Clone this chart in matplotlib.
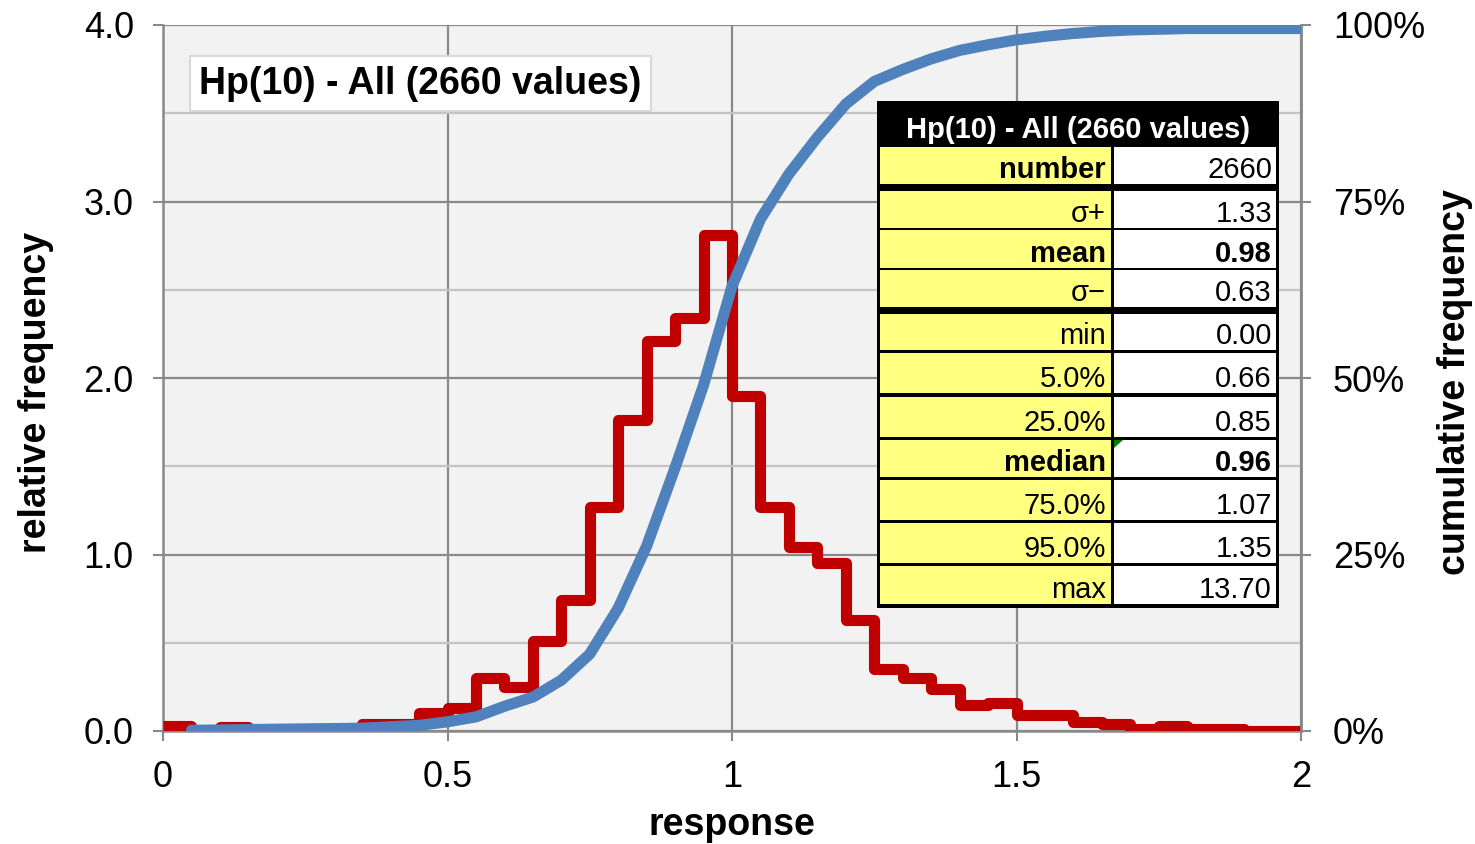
import numpy as np
import matplotlib
matplotlib.use('Agg')
import matplotlib.pyplot as plt
from matplotlib.patches import Rectangle, Polygon
from matplotlib.ticker import MultipleLocator, FixedLocator, PercentFormatter

#====================================================================================
#                                  Data
#------------------------------------------------------------------------------------
# relative frequency per bin (bin width 0.05, left edges 0.00 ... 1.95)
bin_width = 0.05
rel_freq = [0.03, 0.00, 0.02, 0.01, 0.01, 0.01, 0.01, 0.04, 0.04, 0.10,
            0.13, 0.30, 0.25, 0.51, 0.74, 1.27, 1.76, 2.21, 2.34, 2.81,
            1.90, 1.27, 1.04, 0.95, 0.63, 0.35, 0.30, 0.24, 0.15, 0.16,
            0.09, 0.09, 0.05, 0.04, 0.01, 0.03, 0.01, 0.01, 0.00, 0.00]

# cumulative frequency (%) at the upper bin edges 0.05 ... 2.00
cum_freq = [0.1, 0.15, 0.2, 0.25, 0.3, 0.35, 0.4, 0.6, 0.8, 1.3,
            2.0, 3.5, 4.8, 7.2, 10.9, 17.4, 26.2, 37.3, 49.0, 63.0,
            72.5, 78.9, 84.1, 88.8, 92.0, 93.7, 95.2, 96.4, 97.2, 97.9,
            98.4, 98.8, 99.1, 99.3, 99.4, 99.5, 99.5, 99.5, 99.5, 99.5]

title = 'Hp(10) - All (2660 values)'
stat_names = ['number', '\u03c3+', 'mean', '\u03c3\u2212', 'min', '5.0%', '25.0%',
              'median', '75.0%', '95.0%', 'max']
stat_values = ['2660', '1.33', '0.98', '0.63', '0.00', '0.66', '0.85',
               '0.96', '1.07', '1.35', '13.70']
bold_names = ['number', 'mean', 'median']
bold_values = ['mean', 'median']

x_ticks = [0, 0.5, 1, 1.5, 2]
x_ticklabels = ['0', '0.5', '1', '1.5', '2']
y_ticks = [0, 1, 2, 3, 4]
y_ticklabels = ['0.0', '1.0', '2.0', '3.0', '4.0']

#====================================================================================
#                                  Figure
#------------------------------------------------------------------------------------
plt.rcParams['font.family'] = ['Liberation Sans', 'DejaVu Sans']
W, H = 1475, 844
fig = plt.figure(figsize=(W / 100, H / 100), dpi=100)

ax = fig.add_axes([163 / W, 1 - 731 / H, (1301 - 163) / W, (731 - 25) / H])
ax.set_facecolor('#F2F2F2')
ax.set_xlim(0, 2)
ax.set_ylim(0, 4)
ax.set_axisbelow(True)

grid_dark = '#898989'
grid_light = '#C4C4C4'
ax.xaxis.set_major_locator(FixedLocator(x_ticks))
ax.set_xticklabels(x_ticklabels)
ax.yaxis.set_major_locator(FixedLocator(y_ticks))
ax.set_yticklabels(y_ticklabels)
ax.yaxis.set_minor_locator(MultipleLocator(0.5))
ax.grid(True, which='major', color=grid_dark, linewidth=1.6)
ax.grid(True, which='minor', axis='y', color=grid_light, linewidth=1.6)
ax.tick_params(which='major', direction='out', length=7, width=1.5, color=grid_dark,
               labelsize=26, pad=14)
ax.tick_params(which='minor', length=0)
for s in ['left', 'bottom', 'right']:
    ax.spines[s].set_color(grid_dark)
    ax.spines[s].set_linewidth(1.8)
ax.spines['top'].set_visible(False)

# histogram (step)
edges = np.arange(len(rel_freq) + 1) * bin_width
ax.step(edges, list(rel_freq) + [rel_freq[-1]], where='post', color='#C00000',
        linewidth=8, solid_joinstyle='round', solid_capstyle='butt', zorder=3)

ax.set_xlabel('response', fontsize=27, fontweight='bold')
ax.xaxis.set_label_coords(0.5, -0.108)
ax.set_ylabel('relative frequency', fontsize=27, fontweight='bold')
ax.yaxis.set_label_coords(-0.096, 0.48)

# cumulative curve on the right axis
ax2 = ax.twinx()
ax2.set_ylim(0, 100)
ax2.yaxis.set_major_locator(FixedLocator([0, 25, 50, 75, 100]))
ax2.yaxis.set_major_formatter(PercentFormatter(decimals=0))
ax2.tick_params(direction='out', length=7, width=1.5, color=grid_dark,
                labelsize=26, pad=16)
for s in ['left', 'bottom', 'top']:
    ax2.spines[s].set_visible(False)
ax2.spines['right'].set_color(grid_dark)
ax2.spines['right'].set_linewidth(1.8)
cum_x = edges[1:]
ax2.plot(cum_x, cum_freq, color='#4F81BD', linewidth=8,
         solid_joinstyle='round', solid_capstyle='round', zorder=4)
ax2.set_ylabel('cumulative frequency', fontsize=27, fontweight='bold')
ax2.yaxis.set_label_coords(1.1195, 0.494)

# title box
ax.text(0.032, 0.917, title, transform=ax.transAxes, fontsize=27, fontweight='bold',
        ha='left', va='center', zorder=6,
        bbox=dict(boxstyle='square,pad=0.25', facecolor='white', edgecolor='#D9D9D9',
                  linewidth=1.5))

#====================================================================================
#                                  Stats table
#------------------------------------------------------------------------------------
tx0, tx1, ty0, ty1 = 877, 1279, 101, 608
tab = fig.add_axes([tx0 / W, 1 - ty1 / H, (tx1 - tx0) / W, (ty1 - ty0) / H])
tab.set_xlim(tx0, tx1)
tab.set_ylim(ty1, ty0)
tab.axis('off')
tab.add_patch(Rectangle((tx0, ty0), tx1 - tx0, ty1 - ty0, facecolor='black', edgecolor='none'))
tab.text((tx0 + tx1) / 2, 138, title, color='white', fontsize=21, fontweight='bold',
         ha='center', va='baseline')

row_top = [147, 191, 230, 270, 314, 353, 397, 440, 480, 523, 566]
row_bot = [184, 228, 268, 307, 350, 393, 437, 477, 520, 563, 604]
for name, val, top, bot in zip(stat_names, stat_values, row_top, row_bot):
    tab.add_patch(Rectangle((880, top), 1111 - 880, bot - top, facecolor='#FFFF80',
                            edgecolor='none'))
    tab.add_patch(Rectangle((1114, top), 1276 - 1114, bot - top, facecolor='white',
                            edgecolor='none'))
    fw_n = 'bold' if name in bold_names else 'normal'
    fw_v = 'bold' if name in bold_values else 'normal'
    tab.text(1106, bot - 6, name, fontsize=21, fontweight=fw_n, ha='right', va='baseline')
    tab.text(1272, bot - 6, val, fontsize=21, fontweight=fw_v, ha='right', va='baseline')
    if name == 'median':
        tab.add_patch(Polygon([[1114, top], [1123, top], [1114, top + 8]],
                              closed=True, facecolor='#008000', edgecolor='none'))

fig.savefig('out.png', dpi=100)
